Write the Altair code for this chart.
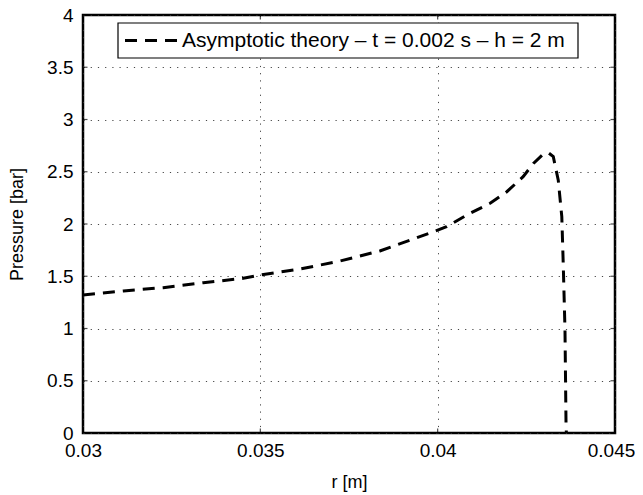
import altair as alt
import pandas as pd

r_vals = [0.03000, 0.03114, 0.03226, 0.03339, 0.03452, 0.03500, 0.03612, 0.03725,
          0.03837, 0.03884, 0.03988, 0.04025, 0.04082, 0.04148, 0.04195, 0.04241,
          0.04270, 0.04298, 0.04312, 0.04326, 0.04340, 0.04350, 0.04354, 0.04359,
          0.04362, 0.04363]
p_vals = [1.321, 1.359, 1.391, 1.438, 1.480, 1.512, 1.569, 1.646,
          1.742, 1.799, 1.926, 1.974, 2.086, 2.198, 2.309, 2.453,
          2.580, 2.670, 2.682, 2.644, 2.420, 2.070, 1.624, 0.986,
          0.060, 0.000]
series_name = "Asymptotic theory – t = 0.002 s – h = 2 m"
x_ticks = [0.03, 0.035, 0.04, 0.045]
y_ticks = [0, 0.5, 1, 1.5, 2, 2.5, 3, 3.5, 4]

df = pd.DataFrame({"r": r_vals, "p": p_vals})
xt = pd.DataFrame({"v": x_ticks})
yt = pd.DataFrame({"v": y_ticks})
leg = pd.DataFrame({"name": [series_name]})

FONT = "Liberation Sans"
DASH = [12, 8]
xscale = alt.Scale(domain=[0.03, 0.045], nice=False, zero=False)
yscale = alt.Scale(domain=[0, 4], nice=False)

line = alt.Chart(df).mark_line(strokeWidth=3, strokeDash=DASH, color="black", clip=True).encode(
    x=alt.X("r:Q", scale=xscale, title="r [m]",
            axis=alt.Axis(values=x_ticks, format="~g", grid=True,
                          ticks=False, domain=False, labelPadding=8, titlePadding=13,
                          labelFlush=False,
                          labelOffset={"condition": {"test": "datum.value >= 0.045", "value": -4},
                                       "value": 0})),
    y=alt.Y("p:Q", scale=yscale, title="Pressure [bar]",
            axis=alt.Axis(values=y_ticks, format="~g", grid=True, ticks=False, domain=False,
                          labelPadding=10, titlePadding=20)),
)

tick_size = 9
bx = alt.Chart(xt).mark_tick(orient="vertical", size=tick_size, thickness=1.2, color="black", clip=True).encode(
    x=alt.X("v:Q", scale=xscale), y=alt.datum(0))
tx = alt.Chart(xt).mark_tick(orient="vertical", size=tick_size, thickness=1.2, color="black", clip=True).encode(
    x=alt.X("v:Q", scale=xscale), y=alt.datum(4))
ly = alt.Chart(yt).mark_tick(orient="horizontal", size=tick_size, thickness=1.2, color="black", clip=True).encode(
    y=alt.Y("v:Q", scale=yscale), x=alt.datum(0.03))
ry = alt.Chart(yt).mark_tick(orient="horizontal", size=tick_size, thickness=1.2, color="black", clip=True).encode(
    y=alt.Y("v:Q", scale=yscale), x=alt.datum(0.045))

# legend drawn as a small box with a dashed sample and the series label
leg_box = alt.Chart(leg).mark_rect(fill="white", stroke="black", strokeWidth=1.2).encode(
    x=alt.value(35), x2=alt.value(495), y=alt.value(8), y2=alt.value(43))
leg_line = alt.Chart(leg).mark_rule(color="black", strokeWidth=3, strokeDash=DASH).encode(
    x=alt.value(42), x2=alt.value(95), y=alt.value(25.5))
leg_text = alt.Chart(leg).mark_text(align="left", baseline="middle", font=FONT, fontSize=21,
                                    color="black").encode(
    x=alt.value(99), y=alt.value(26), text="name:N")

chart = alt.layer(line, bx, tx, ly, ry, leg_box, leg_line, leg_text).properties(
    width=532, height=418,
    background="white",
    autosize=alt.AutoSizeParams(type="none"),
    padding={"left": 75, "top": 7, "right": 20, "bottom": 62},
).configure_view(
    stroke="black", strokeWidth=2.5
).configure_axis(
    gridColor="#333", gridDash=[1.2, 6], gridWidth=1, gridOpacity=0.9,
    labelFont=FONT, titleFont=FONT, labelFontSize=19, titleFontSize=18,
    labelColor="black", titleColor="black", titleFontWeight="normal"
)

chart.save("out.html", embed_options={"renderer": "svg", "actions": False})
